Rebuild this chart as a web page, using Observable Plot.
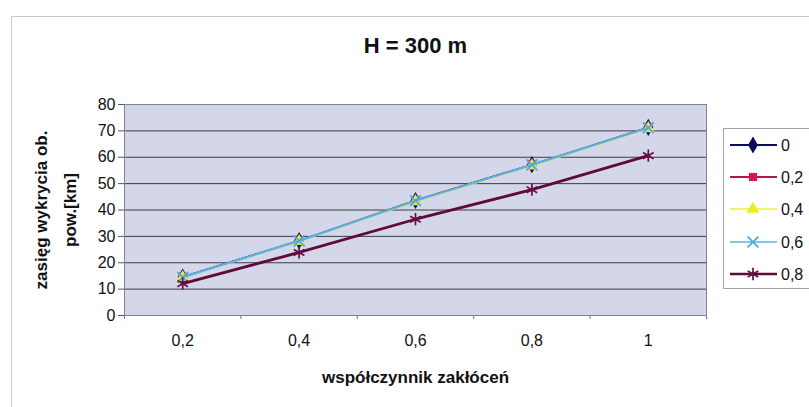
<!DOCTYPE html>
<html>
<head>
<meta charset="utf-8">
<script src="https://cdn.jsdelivr.net/npm/d3@7"></script>
<script src="https://cdn.jsdelivr.net/npm/@observablehq/plot@0.6"></script>
<style>
  body { margin: 0; background: #fff; font-family: "Liberation Sans", Arial, sans-serif; }
  #chart { position: relative; width: 809px; height: 407px; overflow: hidden; }
  #chart svg { position: absolute; left: 0; top: 0; }
  #border { position: absolute; left: 11px; top: 16px; width: 900px; height: 500px; border: 1px solid #c8cad0; }
</style>
</head>
<body>
<div id="chart"><div id="border"></div></div>
<script>
// Interference coefficient (x categories) and their printed labels
const categories = [0.2, 0.4, 0.6, 0.8, 1];
const tickLabels = ["0,2", "0,4", "0,6", "0,8", "1"];
const yTicks = [0, 10, 20, 30, 40, 50, 60, 70, 80];

// Detection range [km] for each series
const seriesNames = ["0", "0,2", "0,4", "0,6", "0,8"];
const range0  = [14.6, 28.4, 43.6, 57.2, 71.3];
const range02 = [14.6, 28.4, 43.6, 57.2, 71.3];
const range04 = [14.4, 28.1, 43.2, 56.8, 70.9];
const range06 = [14.5, 28.3, 43.5, 57.1, 71.2];
const range08 = [12.1, 23.9, 36.5, 47.7, 60.6];
const seriesValues = [range0, range02, range04, range06, range08];

// Per-series look: line colour, marker symbol and paint
const styles = [
  {color: "#0b0b5c", symbol: "diamond",  fill: "#0b0b5c", stroke: "none",    lw: 1.5, r: 5.2, d3s: d3.symbolDiamond, llw: 2},
  {color: "#b5124f", symbol: "square",   fill: "#d6145a", stroke: "none",    lw: 1.5, r: 4.6, d3s: d3.symbolSquare, llw: 2},
  {color: "#ecef3a", symbol: "triangle", fill: "#e8ee2a", stroke: "none",    lw: 1.5, r: 4.8, d3s: d3.symbolTriangle, llw: 1.6},
  {color: "#5cb2e4", symbol: "times",    fill: "none",    stroke: "#4aa8e6", lw: 2.2, r: 5,   d3s: d3.symbolTimes, llw: 1.6},
  {color: "#5e0b3a", symbol: "asterisk", fill: "none",    stroke: "#6a0c44", lw: 2.8, r: 5.8, d3s: d3.symbolAsterisk, llw: 2.4}
];

const rows = seriesValues.map((vals, s) =>
  vals.map((v, i) => ({x: categories[i], y: v, s}))
);

// category boundaries carry the small tick marks under the axis
const bounds = categories.map(c => +(c - 0.1).toFixed(2)).concat([1.1]);

const seriesMarks = rows.flatMap((data, s) => {
  const st = styles[s];
  return [
    Plot.line(data, {x: "x", y: "y", stroke: st.color, strokeWidth: st.lw}),
    Plot.dot(data, {x: "x", y: "y", symbol: () => st.symbol, r: st.r,
      fill: st.fill, stroke: st.stroke, strokeWidth: st.stroke === "none" ? 0 : 1.7})
  ];
});

const plot = Plot.plot({
  width: 809,
  height: 407,
  marginLeft: 124,
  marginRight: 103,
  marginTop: 104,
  marginBottom: 92,
  style: {fontFamily: "'Liberation Sans', Arial, sans-serif", fontSize: "16px", color: "#111", background: "transparent"},
  x: {type: "linear", domain: [0.1, 1.1]},
  y: {domain: [0, 80]},
  symbol: {type: "identity"},
  marks: [
    Plot.frame({fill: "#d4d7ea", stroke: "none"}),
    Plot.gridY(yTicks.filter(t => t > 0), {stroke: "#3c3c44", strokeOpacity: 1, strokeWidth: 1}),
    Plot.axisY(yTicks, {tickSize: 6, tickPadding: 3, label: null, stroke: "#555"}),
    Plot.axisX(categories, {tickSize: 0, tickPadding: 19, label: null,
      tickFormat: d => tickLabels[categories.indexOf(d)]}),
    Plot.axisX(bounds, {tickSize: 4, tickFormat: () => "", label: null, stroke: "#777"}),
    Plot.ruleY([0], {stroke: "#444"}),
    Plot.ruleX([0.1], {stroke: "#555"}),
    ...seriesMarks,
    Plot.frame({stroke: "#80828f"}),
    Plot.text(["H = 300 m"], {frameAnchor: "top", lineAnchor: "middle", dy: -59,
      fontSize: 22, fontWeight: "bold", fill: "#111"}),
    Plot.text(["współczynnik zakłóceń"], {frameAnchor: "bottom", lineAnchor: "middle", dy: 62,
      fontSize: 17, fontWeight: "bold", fill: "#111", letterSpacing: "1.2px"}),
    Plot.text(["zasięg wykrycia ob.\npow.[km]"], {frameAnchor: "left", lineAnchor: "middle",
      textAnchor: "middle", rotate: -90, dx: -72, lineHeight: 1.7,
      fontSize: 17, fontWeight: "bold", fill: "#111"})
  ]
});

document.getElementById("chart").appendChild(plot);

// Legend box on the right
const svg = d3.select(plot);
const lg = svg.append("g").attr("text-anchor", "start");
lg.append("rect").attr("x", 723.5).attr("y", 128.5).attr("width", 120).attr("height", 160)
  .attr("fill", "#fff").attr("stroke", "#a4a6ad");
const legendY = [145, 177, 209, 242, 274];
seriesNames.forEach((name, s) => {
  const st = styles[s];
  const y = legendY[s];
  lg.append("line").attr("x1", 730).attr("x2", 777).attr("y1", y).attr("y2", y)
    .attr("stroke", st.color).attr("stroke-width", st.llw);
  lg.append("path")
    .attr("d", d3.symbol(st.d3s, Math.PI * st.r * st.r)())
    .attr("transform", `translate(753,${y})`)
    .attr("fill", st.fill).attr("stroke", st.stroke)
    .attr("stroke-width", st.stroke === "none" ? 0 : 1.7);
  lg.append("text").attr("x", 781).attr("y", y).attr("dy", "0.36em")
    .attr("text-anchor", "start").attr("font-size", 16).attr("fill", "#111").text(name);
});
</script>
</body>
</html>
